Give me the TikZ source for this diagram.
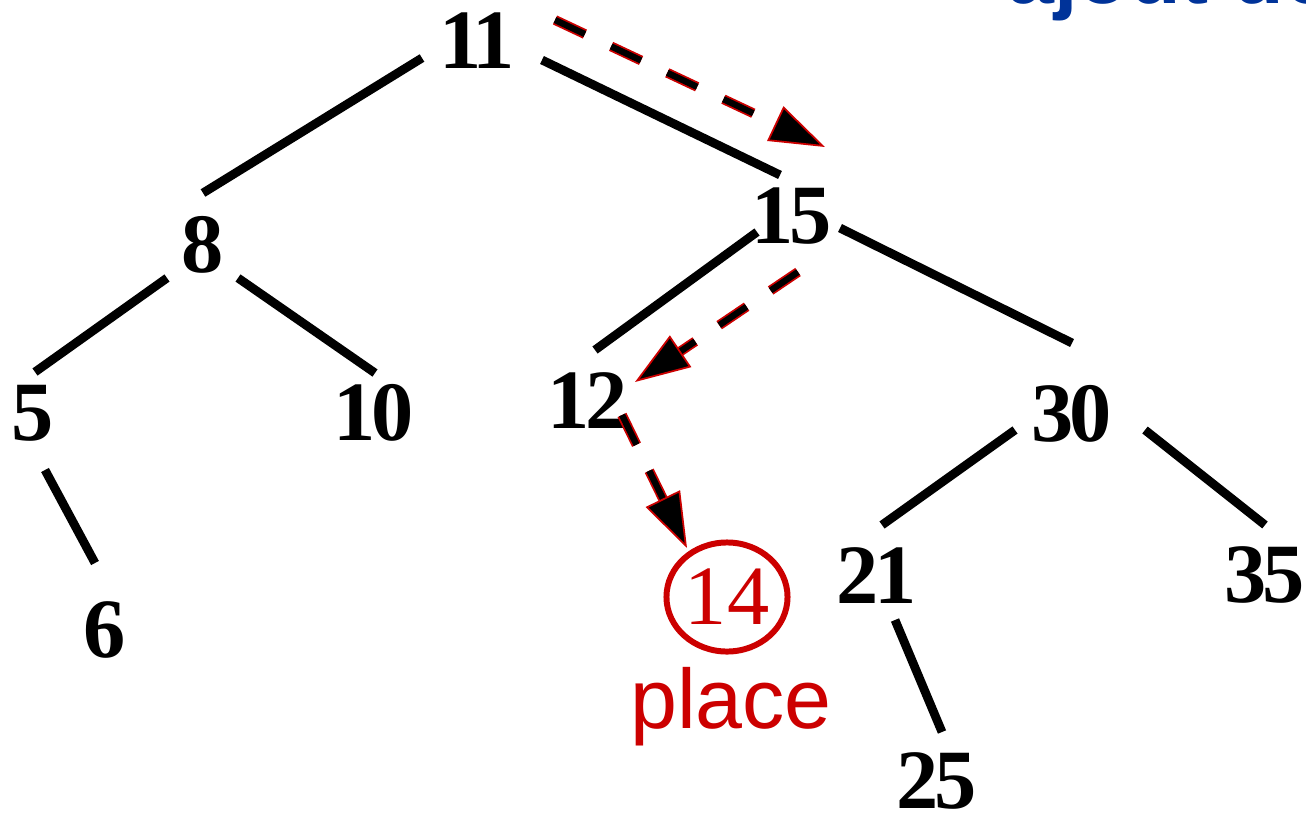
\documentclass[tikz,border=0pt]{standalone}
\usepackage{fontspec}
\setmainfont{Liberation Serif}
\newfontfamily\keyfont[LetterSpace=-5]{Liberation Serif}
\newfontfamily\notefont{Liberation Sans}
\usetikzlibrary{arrows.meta,calc,shapes.geometric}
\definecolor{InsertRed}{RGB}{204,0,0}
\definecolor{TitleBlue}{RGB}{0,51,153}

\begin{document}
\begin{tikzpicture}[x=0.01cm,y=-0.01cm,
    key/.style={font=\keyfont\bfseries\fontsize{24}{24}\selectfont,anchor=base,inner sep=0pt},
    edge/.style={line width=2.5pt},
    probe/.style={draw=InsertRed,line width=0.5pt,double=black,double distance=1.8pt,
      dash pattern=on 0.33cm off 0.29cm,-{Triangle[length=0.55cm,width=0.38cm,fill=black]}}]
  \useasboundingbox (0,0) rectangle (1306,812);
  % keys of the tree
  \node[key] (k11) at (477,68) {11};
  \node[key] (k8) at (203,272) {8};
  \node[key] (k15) at (792,243) {15};
  \node[key] (k5) at (33,440) {5};
  \node[key] (k10) at (374,440) {10};
  \node[key] (k12) at (588,428) {12};
  \node[key] (k30) at (1072,441) {30};
  \node[key] (k6) at (105,657) {6};
  \node[key] (k21) at (877,603) {21};
  \node[key] (k35) at (1265,602) {35};
  \node[key] (k25) at (937,808) {25};
  \node[draw=InsertRed,line width=1.7pt,ellipse,minimum width=1.21cm,minimum height=1.09cm,
    inner sep=0pt,text=InsertRed,font=\fontsize{24}{24}\selectfont] (k14) at (727,597) {14};
  \node[text=InsertRed,font=\notefont\fontsize{24}{24}\selectfont,anchor=base] (place) at (731,728) {place};
  \node[text=TitleBlue,font=\notefont\bfseries\fontsize{24}{24}\selectfont,anchor=base west] (title) at (995,4) {ajout de};
  % edges
  \draw[edge] ($(k11.base)+(-55,-10)$) -- ($(k8.base)+(0,-79)$);
  \draw[edge] ($(k11.base)+(65,-8)$) -- ($(k15.base)+(-12,-68)$);
  \draw[edge] ($(k8.base)+(-36,6)$) -- ($(k5.base)+(2,-68)$);
  \draw[edge] ($(k8.base)+(35,6)$) -- ($(k10.base)+(1,-67)$);
  \draw[edge] ($(k15.base)+(-35,-11)$) -- ($(k12.base)+(7,-78)$);
  \draw[edge] ($(k15.base)+(48,-15)$) -- ($(k30.base)+(0,-98)$);
  \draw[edge] ($(k5.base)+(12,30)$) -- ($(k6.base)+(-10,-94)$);
  \draw[edge] ($(k30.base)+(-57,-11)$) -- ($(k21.base)+(5,-78)$);
  \draw[edge] ($(k30.base)+(73,-11)$) -- ($(k35.base)+(0,-77)$);
  \draw[edge] ($(k21.base)+(18,17)$) -- ($(k25.base)+(5,-76)$);
  % search path
  \draw[probe] ($(k11.base)+(78,-48)$) -- ($(k15.base)+(33,-96)$);
  \draw[probe] ($(k15.base)+(6,29)$) -- ($(k12.base)+(47,-46)$);
  \draw[probe] ($(k12.base)+(34,-13)$) -- ($(k14)+(-40,-49)$);
\end{tikzpicture}
\end{document}
